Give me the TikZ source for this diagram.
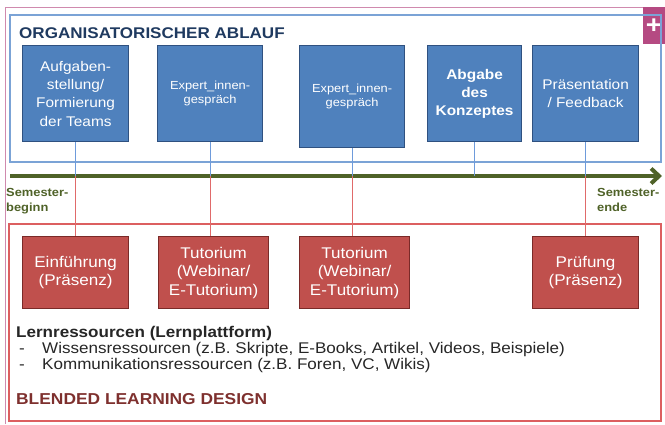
\documentclass[tikz,border=0pt]{standalone}
\usepackage{fontspec}
\setmainfont[FakeStretch=1.1]{Liberation Sans}
\usetikzlibrary{arrows.meta}
\definecolor{boxblue}{HTML}{4F81BD}
\definecolor{boxblueline}{HTML}{2F5180}
\definecolor{frameblue}{HTML}{7BA3D6}
\definecolor{linkblue}{HTML}{6E9BDB}
\definecolor{titleblue}{HTML}{1F3A60}
\definecolor{boxred}{HTML}{C0504D}
\definecolor{boxredline}{HTML}{7A2A28}
\definecolor{framered}{HTML}{DC5F60}
\definecolor{linkred}{HTML}{E06A6A}
\definecolor{titlered}{HTML}{7E302E}
\definecolor{timegreen}{HTML}{4F6228}
\definecolor{pinkframe}{HTML}{D08AAE}
\definecolor{plusbox}{HTML}{B54A82}

\begin{document}
\begin{tikzpicture}[x=1pt,y=-1pt,
  orgbox/.style={draw=boxblueline,line width=1.2pt,fill=boxblue,text=white,align=center,anchor=north west,inner sep=0pt,minimum height=96pt,font=\fontsize{14}{18.3}\selectfont},
  lernbox/.style={draw=boxredline,line width=1.2pt,fill=boxred,text=white,align=center,anchor=north west,inner sep=0pt,minimum height=72pt,font=\fontsize{15.5}{18.5}\selectfont},
  bluelink/.style={linkblue,line width=0.8pt},
  redlink/.style={linkred,line width=0.8pt},
  listtext/.style={anchor=base west,inner sep=0pt,text=black!85,font=\fontsize{15.5}{18}\selectfont}]
\useasboundingbox (0,0) rectangle (665,424);
% outer frame and corner button
\draw[pinkframe,line width=1pt] (5,424) -- (5,7) -- (643,7);
\fill[plusbox] (643,7) rectangle (665,44);
\node[text=white,inner sep=0pt,font=\bfseries\fontsize{25}{25}\selectfont] (plus) at (654,26) {+};

% organisational part
\draw[frameblue,line width=1.5pt] (10,15) rectangle (661,162);
\node[anchor=base west,inner sep=0pt,text=titleblue,font=\bfseries\fontsize{15.5}{18}\selectfont] (orgtitle) at (19,38) {ORGANISATORISCHER ABLAUF};
\node[orgbox,minimum width=106pt] (auf) at (22,45) {Aufgaben-\\stellung/\\Formierung\\der Teams};
\node[orgbox,minimum width=105pt,font=\fontsize{11.7}{14}\selectfont] (exp1) at (157,45) {Expert\_innen-\\gespräch};
\node[orgbox,minimum width=105pt,minimum height=102pt,font=\fontsize{11.7}{14}\selectfont] (exp2) at (299,45) {Expert\_innen-\\gespräch};
\node[orgbox,minimum width=94pt,font=\bfseries\fontsize{14}{18}\selectfont] (abgabe) at (427,45) {Abgabe\\des\\Konzeptes};
\node[orgbox,minimum width=106pt] (praes) at (532,45) {Präsentation\\/ Feedback};

% time line
\coordinate (zeit0) at (10,176);
\coordinate (zeit1) at (662,176);
\draw[timegreen,line width=4pt,-{Straight Barb[length=8pt,width=15pt]}] (zeit0) -- (zeit1);
\node[anchor=north west,inner sep=0pt,align=left,text=timegreen,font=\bfseries\fontsize{11.7}{15.5}\selectfont] (beginn) at (6,188) {Semester-\\beginn};
\node[anchor=north west,inner sep=0pt,align=left,text=timegreen,font=\bfseries\fontsize{11.7}{15.5}\selectfont] (ende) at (597,188) {Semester-\\ende};

% blended learning part
\draw[framered,line width=1.5pt] (9,224) rectangle (661,421);
\node[lernbox,minimum width=106pt] (einf) at (22,236) {Einführung\\(Präsenz)};
\node[lernbox,minimum width=110pt] (tut1) at (158,236) {Tutorium\\(Webinar/\\E-Tutorium)};
\node[lernbox,minimum width=110pt] (tut2) at (299,236) {Tutorium\\(Webinar/\\E-Tutorium)};
\node[lernbox,minimum width=106pt] (pruef) at (532,236) {Prüfung\\(Präsenz)};

% links to the time line
\draw[bluelink] (auf.south) -- (auf.south |- zeit0);
\draw[bluelink] (exp1.south) -- (exp1.south |- zeit0);
\draw[bluelink] (exp2.south) -- (exp2.south |- zeit0);
\draw[bluelink] (abgabe.south) -- (abgabe.south |- zeit0);
\draw[bluelink] (praes.south) -- (praes.south |- zeit0);
\draw[redlink] (auf.south |- zeit0) -- (auf.south |- einf.north);
\draw[redlink] (exp1.south |- zeit0) -- (exp1.south |- tut1.north);
\draw[redlink] (exp2.south |- zeit0) -- (exp2.south |- tut2.north);
\draw[redlink] (praes.south |- zeit0) -- (praes.south |- pruef.north);

\node[listtext,font=\bfseries\fontsize{15.5}{18}\selectfont] (lern) at (16,337) {Lernressourcen (Lernplattform)};
\node[listtext] (strich1) at (19,353) {-};
\node[listtext] (wissen) at (42,353) {Wissensressourcen (z.B. Skripte, E-Books, Artikel, Videos, Beispiele)};
\node[listtext] (strich2) at (19,369) {-};
\node[listtext] (komm) at (42,369) {Kommunikationsressourcen (z.B. Foren, VC, Wikis)};
\node[anchor=base west,inner sep=0pt,text=titlered,font=\bfseries\fontsize{15.8}{18}\selectfont] (bltitle) at (16,404) {BLENDED LEARNING DESIGN};
\end{tikzpicture}
\end{document}
